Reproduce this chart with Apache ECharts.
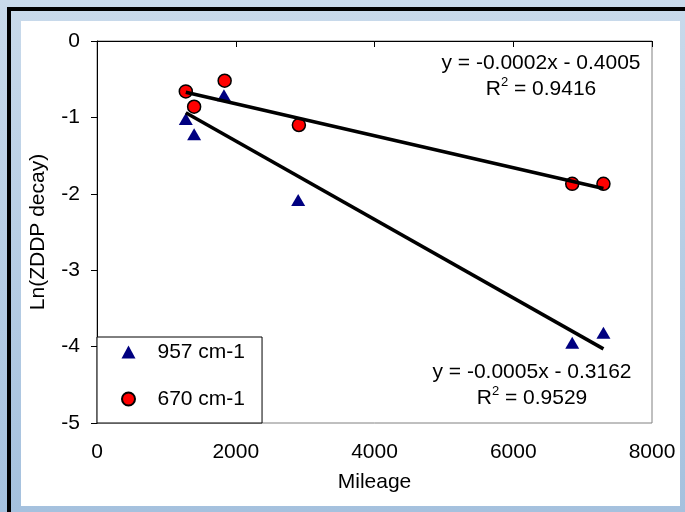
<!DOCTYPE html>
<html>
<head>
<meta charset="utf-8">
<script src="https://cdn.jsdelivr.net/npm/echarts@6/dist/echarts.min.js"></script>
<style>
  html, body { margin: 0; padding: 0; }
  #chart { width: 685px; height: 512px; }
</style>
</head>
<body>
<div id="chart"></div>
<script>
// data
const band957 = [[1280, -1.02], [1400, -1.22], [1830, -0.71], [2900, -2.08], [6850, -3.95], [7300, -3.82]];
const band670 = [[1280, -0.66], [1400, -0.86], [1840, -0.52], [2910, -1.10], [6850, -1.87], [7300, -1.87]];
// trendline end points
const trend957 = [[1280, -0.94], [7300, -4.03]];
const trend670 = [[1280, -0.67], [7300, -1.93]];
const xTicks = { min: 0, max: 8000, step: 2000 };
const yTicks = { min: -5, max: 0, step: 1 };
const eq670 = ["y = -0.0002x - 0.4005", "R{sup|2} = 0.9416"];
const eq957 = ["y = -0.0005x - 0.3162", "R{sup|2} = 0.9529"];

const font = "'Liberation Sans', Arial, sans-serif";
const myChart = echarts.init(document.getElementById("chart"));

function eqText(lines, x, y) {
  return {
    type: "text",
    x: x,
    y: y,
    z: 10,
    style: {
      text: lines.join("\n"),
      font: "21px " + font,
      fill: "#000",
      align: "center",
      verticalAlign: "middle",
      lineHeight: 26,
      rich: {
        sup: { fontSize: 13, verticalAlign: "top", lineHeight: 26, padding: [0, 0, 9, 0] }
      }
    }
  };
}

const option = {
  backgroundColor: {
    type: "linear", x: 0, y: 0, x2: 0, y2: 1,
    colorStops: [{ offset: 0, color: "#c9daeb" }, { offset: 1, color: "#a5c1de" }]
  },
  animation: false,
  graphic: [
    { type: "rect", z: -10, shape: { x: 21, y: 21, width: 659, height: 485 }, style: { fill: "#fff" } },
    { type: "rect", z: -10, shape: { x: 7, y: 7, width: 4, height: 505 }, style: { fill: "#000" } },
    { type: "rect", z: -10, shape: { x: 7, y: 7, width: 678, height: 4 }, style: { fill: "#000" } },
    eqText(eq670, 541, 76),
    eqText(eq957, 532, 385)
  ],
  grid: {
    left: 97, top: 41, right: 33, bottom: 89,
    show: true, borderColor: "#808080", borderWidth: 1
  },
  legend: {
    left: 97, top: 337,
    orient: "vertical",
    data: ["957 cm-1", "670 cm-1"],
    backgroundColor: "#fff",
    borderColor: "#000", borderWidth: 1,
    padding: [3, 17, 12, 24],
    itemWidth: 14, itemHeight: 13,
    itemGap: 23,
    textStyle: { fontFamily: font, fontSize: 21, color: "#000", lineHeight: 24, padding: [0, 0, 0, 17] }
  },
  xAxis: {
    type: "value",
    min: xTicks.min, max: xTicks.max, interval: xTicks.step,
    name: "Mileage", nameLocation: "middle", nameGap: 49,
    nameTextStyle: { fontFamily: font, fontSize: 21, color: "#000" },
    axisLine: { lineStyle: { color: "#000", width: 1 } },
    axisTick: { show: true, length: 6, lineStyle: { color: "#000" } },
    axisLabel: { fontFamily: font, fontSize: 21, color: "#000", margin: 19, formatter: function(v) { return String(v); } },
    splitLine: { show: false }
  },
  yAxis: {
    type: "value",
    min: yTicks.min, max: yTicks.max, interval: yTicks.step,
    name: "Ln(ZDDP decay)", nameLocation: "middle", nameGap: 48, nameRotate: 90,
    nameTextStyle: { fontFamily: font, fontSize: 21, color: "#000" },
    axisLine: { show: true, lineStyle: { color: "#000", width: 1 } },
    axisTick: { show: true, length: 6, lineStyle: { color: "#000" } },
    axisLabel: { fontFamily: font, fontSize: 21, color: "#000", margin: 17 },
    splitLine: { show: false }
  },
  series: [
    {
      name: "957 cm-1", type: "scatter", data: band957,
      symbol: "triangle", symbolSize: [14, 12],
      itemStyle: { color: "#000080", opacity: 1 }
    },
    {
      name: "670 cm-1", type: "scatter", data: band670,
      symbol: "circle", symbolSize: 13,
      itemStyle: { color: "#ff0000", borderColor: "#000", borderWidth: 1.5, opacity: 1 }
    },
    {
      name: "trend 957", type: "line", data: trend957, z: 5,
      symbol: "none", lineStyle: { color: "#000", width: 3.5 }
    },
    {
      name: "trend 670", type: "line", data: trend670, z: 5,
      symbol: "none", lineStyle: { color: "#000", width: 3.5 }
    }
  ]
};

myChart.setOption(option);
window.addEventListener("resize", function() {
  myChart.resize();
});
</script>
</body>
</html>
